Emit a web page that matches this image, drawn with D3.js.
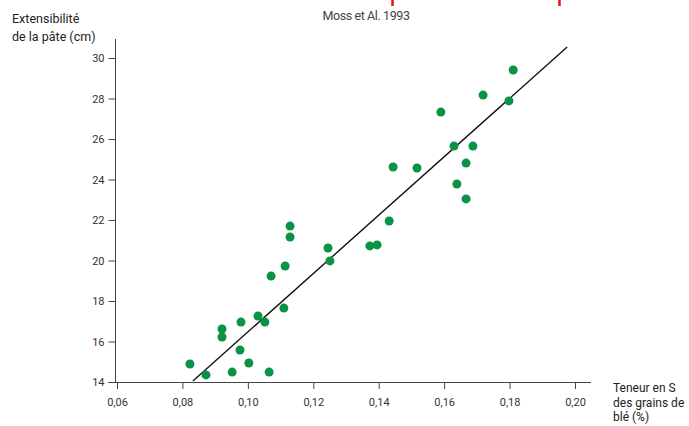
<!DOCTYPE html>
<html><head><meta charset="utf-8">
<script src="https://cdn.jsdelivr.net/npm/d3@7"></script>
<style>body{margin:0;background:#fff;} text{font-family:Roboto, "Liberation Sans", sans-serif;}</style>
</head><body>
<script>
const sulfur = [0.0823,0.0872,0.0921,0.0921,0.0952,0.0979,0.0976,0.1003,0.1031,0.1052,0.1065,0.1071,0.1110,0.1114,0.1129,0.1129,0.1245,0.1251,0.1373,0.1395,0.1432,0.1444,0.1517,0.1590,0.1630,0.1639,0.1667,0.1667,0.1688,0.1719,0.1798,0.1811];
const extensibility = [14.89,14.35,16.62,16.22,14.49,16.96,15.58,14.94,17.26,16.96,14.49,19.23,17.65,19.73,21.16,21.70,20.62,19.98,20.72,20.77,21.95,24.62,24.57,27.33,25.65,23.78,24.81,23.04,25.65,28.17,27.88,29.41];
const fitX = [0.0832, 0.1976];
const fitY = [14.05, 30.54];
const xTicks = [0.06,0.08,0.10,0.12,0.14,0.16,0.18,0.20];
const yTicks = [14,16,18,20,22,24,26,28,30];
const redMarks = [0.1441, 0.1951];

const W=689,H=426;
const svg=d3.select("body").append("svg").attr("width",W).attr("height",H);
const x=d3.scaleLinear().domain([0.06,0.20]).range([117,575]);
const y=d3.scaleLinear().domain([14,30]).range([382,58]);
const fmt=d=>d3.format(".2f")(d).replace(".",",");

// axes
const gx=svg.append("g").attr("transform","translate(0,382)")
  .call(d3.axisBottom(x).tickValues(xTicks).tickFormat(fmt).tickSize(7).tickSizeOuter(0));
gx.select(".domain").remove();
svg.append("line").attr("x1",108).attr("x2",591).attr("y1",382.5).attr("y2",382.5).attr("stroke","#444").attr("stroke-width",1);
gx.selectAll("line").attr("stroke","#444");
gx.selectAll("text").attr("font-size",11).attr("fill","#333").attr("dy","1.3em");

const gy=svg.append("g").attr("transform","translate(115.5,0)")
  .call(d3.axisLeft(y).tickValues(yTicks).tickFormat(d3.format("d")).tickSize(7).tickSizeOuter(0));
gy.select(".domain").remove();
svg.append("line").attr("x1",115.5).attr("x2",115.5).attr("y1",39).attr("y2",383).attr("stroke","#444");
gy.selectAll("line").attr("stroke","#444");
gy.selectAll("text").attr("font-size",11).attr("fill","#333").attr("x",-11);

// fit line
svg.append("line").attr("x1",x(fitX[0])).attr("y1",y(fitY[0])).attr("x2",x(fitX[1])).attr("y2",y(fitY[1]))
  .attr("stroke","#111").attr("stroke-width",1.4);

// points
svg.append("g").selectAll("circle").data(sulfur.map((s,i)=>[s,extensibility[i]])).join("circle")
  .attr("cx",d=>x(d[0])).attr("cy",d=>y(d[1])).attr("r",4.5).attr("fill","#0a9245");

// red marks at top
svg.append("g").selectAll("line").data(redMarks).join("line")
  .attr("x1",d=>Math.round(x(d))+0.5).attr("x2",d=>Math.round(x(d))+0.5).attr("y1",0).attr("y2",6)
  .attr("stroke","#e3101b").attr("stroke-width",2.5);

// titles
svg.append("text").attr("x",366).attr("y",20).attr("text-anchor","middle").attr("font-size",12.5).attr("fill","#444").attr("letter-spacing","-0.4").text("Moss et Al. 1993");
const yt=svg.append("text").attr("font-size",12.5).attr("fill","#222");
yt.append("tspan").attr("x",12).attr("y",23).text("Extensibilité");
yt.append("tspan").attr("x",12).attr("y",41).text("de la pâte (cm)");
[["Teneur en S",392],["des grains de",406.5],["blé (%)",421]].forEach(([t,yy])=>{
  svg.append("text").attr("x",613).attr("y",yy).attr("font-size",12).attr("fill","#222").text(t);
});
</script>
</body></html>
